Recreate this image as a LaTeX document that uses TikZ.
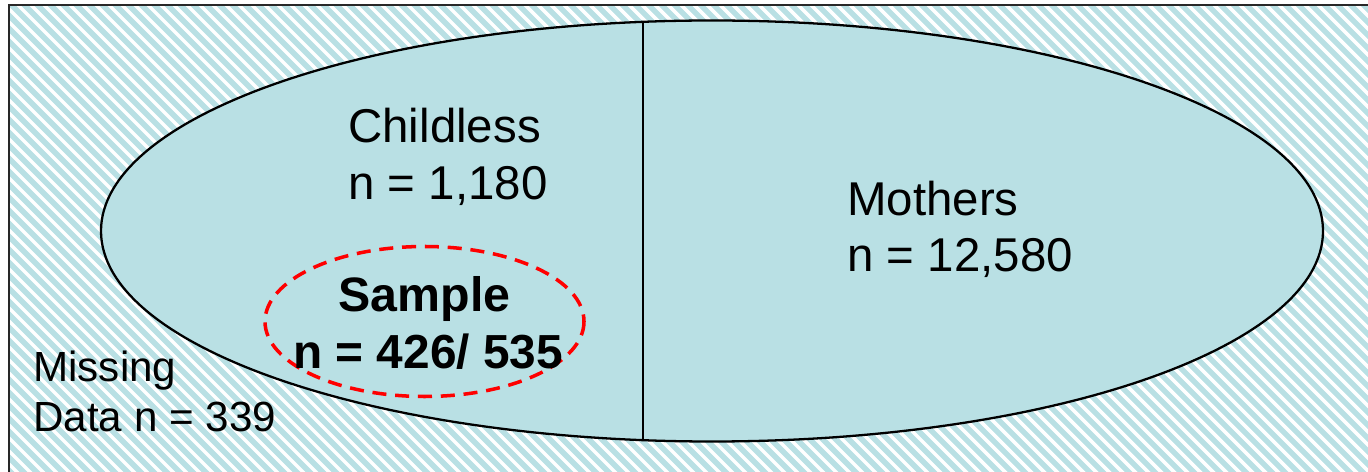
\documentclass[tikz,border=0pt]{standalone}
\usepackage{fontspec}
\setmainfont{Liberation Sans}
\definecolor{paleblue}{RGB}{185,224,228}
\definecolor{framegray}{RGB}{40,40,40}
\begin{document}
\begin{tikzpicture}[x=0.02cm,y=-0.02cm,
  lbl/.style={anchor=base west,inner sep=0pt,text=black},
  big/.style={font=\fontsize{27}{32}\selectfont},
  mid/.style={font=\fontsize{24}{29}\selectfont},
  stripe/.style={white,line width=2pt},
  venn/.style={draw=black,line width=1.3pt,fill=paleblue},
  samp/.style={draw=red,line width=2pt,dash pattern=on 8pt off 5pt}]
\useasboundingbox (0,0) rectangle (1368,472);
% hatched background
\begin{scope}
  \clip (9,5) rectangle (1368,472);
  \fill[paleblue] (9,5) rectangle (1368,472);
  \foreach \x in {-481,-468,...,1380} \draw[stripe] (\x,0) -- (\x+480,480);
\end{scope}
% frame (left and top edges visible)
\draw[framegray,line width=1.3pt] (9,480) -- (9,5) -- (1380,5);
% main ellipse
\draw[venn] (712,231) ellipse [x radius=611,y radius=210.5];
\coordinate (divtop) at (643,21.6);
\coordinate (divbot) at (643,440.4);
\draw[black,line width=1.1pt] (divtop) -- (divbot);
% sample ellipse
\draw[samp] (424.5,321.5) ellipse [x radius=159.5,y radius=75];
% labels
\node[lbl,big] (child1) at (348,142.7) {Childless};
\node[lbl,big] (child2) at (348,200) {n = 1,180};
\node[lbl,big] (moth1) at (847,216) {Mothers};
\node[lbl,big] (moth2) at (847,271.7) {n = 12,580};
\node[anchor=base,inner sep=0pt,font=\fontsize{27.5}{32}\selectfont\bfseries] (samp1) at (424.5,311.7) {Sample};
\node[lbl,font=\fontsize{27.2}{32}\selectfont\bfseries] (samp2) at (293,369) {n = 426/ 535};
\node[lbl,mid] (miss1) at (33,381.7) {Missing};
\node[lbl,mid] (miss2) at (33,431.7) {Data n = 339};
\end{tikzpicture}
\end{document}
